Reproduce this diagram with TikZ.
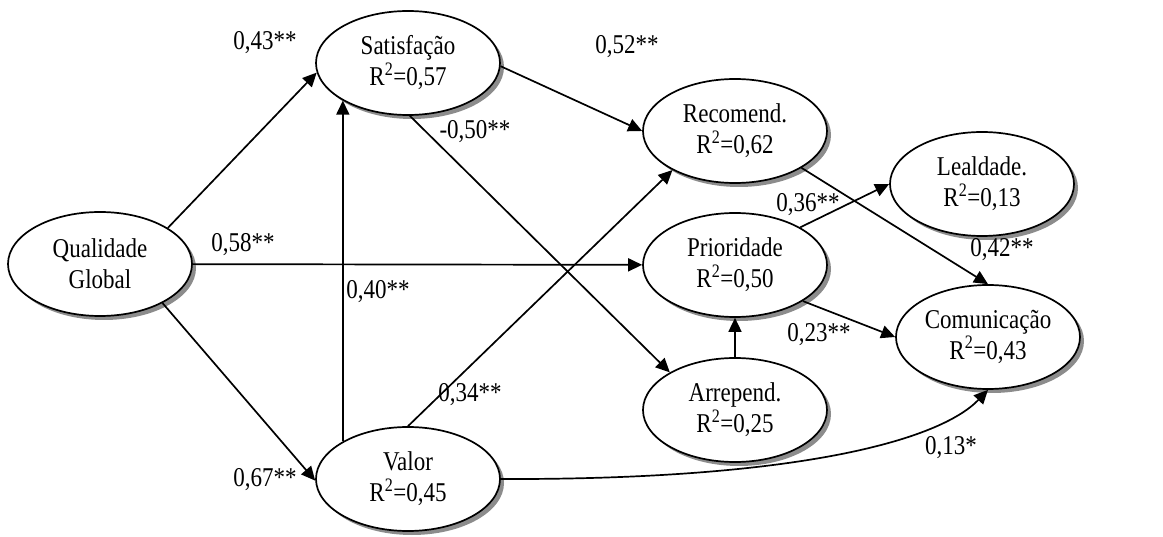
\documentclass[tikz,border=0pt]{standalone}
\usepackage{fontspec}
\usepackage{graphicx}
\setmainfont{Liberation Serif}
\usetikzlibrary{shapes.geometric,arrows.meta,shadows}

% text in this figure is set slightly taller than its width
\newcommand\tall[1]{\scalebox{1}[1.18]{#1}}
\newcommand\twolines[2]{\tall{#1}\\\tall{#2}}

\begin{document}
\begin{tikzpicture}[x=1pt,y=-1pt,
  latent/.style={ellipse, draw, line width=1.7pt, fill=white,
    minimum width=184pt, minimum height=104pt, inner sep=0pt, align=center,
    font=\fontsize{23}{31}\selectfont,
    drop shadow={shadow xshift=4pt, shadow yshift=-4pt, fill=black!45, opacity=1}},
  link/.style={line width=1.7pt, -{Triangle[length=14pt,width=13pt]}},
  coef/.style={font=\fontsize{23}{27}\selectfont, inner sep=0pt}]
\useasboundingbox (0,0) rectangle (1163,537);

% latent constructs
\node[latent] (qg)   at (100,264) {\twolines{Qualidade}{Global}};
\node[latent] (sat)  at (408,63)  {\twolines{Satisfação}{R\textsuperscript{2}=0,57}};
\node[latent] (val)  at (408,479) {\twolines{Valor}{R\textsuperscript{2}=0,45}};
\node[latent] (rec)  at (735,131) {\twolines{Recomend.}{R\textsuperscript{2}=0,62}};
\node[latent] (prio) at (735,265) {\twolines{Prioridade}{R\textsuperscript{2}=0,50}};
\node[latent] (arr)  at (735,410) {\twolines{Arrepend.}{R\textsuperscript{2}=0,25}};
\node[latent] (lea)  at (982,184) {\twolines{Lealdade.}{R\textsuperscript{2}=0,13}};
\node[latent] (com)  at (988,337) {\twolines{Comunicação}{R\textsuperscript{2}=0,43}};

% structural paths
\draw[link] (qg.28)   -- (sat.186);
\draw[link] (qg)      -- (prio);
\draw[link] (qg.-32)  -- (val.181);
\draw[link] (val.150) -- (sat.210);
\draw[link] (sat.-88) -- (arr.150);
\draw[link] (sat.-2)  -- (rec.180);
\draw[link] (val.north) -- (rec.212);
\draw[link] (val.east) .. controls (800,480) and (940,440) .. (com.south);
\draw[link] (rec.-29) -- (com.north);
\draw[link] (prio.30) -- (lea.180);
\draw[link] (prio.-28) -- (com.180);
\draw[link] (arr.north) -- (prio.south);

% path coefficients
\node[coef] (c1)  at (265,43)  {\tall{0,43**}};
\node[coef] (c2)  at (243,245) {\tall{0,58**}};
\node[coef] (c3)  at (378,292) {\tall{0,40**}};
\node[coef] (c4)  at (265,480) {\tall{0,67**}};
\node[coef] (c5)  at (470,395) {\tall{0,34**}};
\node[coef] (c6)  at (475,132) {\tall{-0,50**}};
\node[coef] (c7)  at (627,47)  {\tall{0,52**}};
\node[coef] (c8)  at (808,205) {\tall{0,36**}};
\node[coef] (c9)  at (1002,250) {\tall{0,42**}};
\node[coef] (c10) at (819,335) {\tall{0,23**}};
\node[coef] (c11) at (951,448) {\tall{0,13*}};
\end{tikzpicture}
\end{document}
